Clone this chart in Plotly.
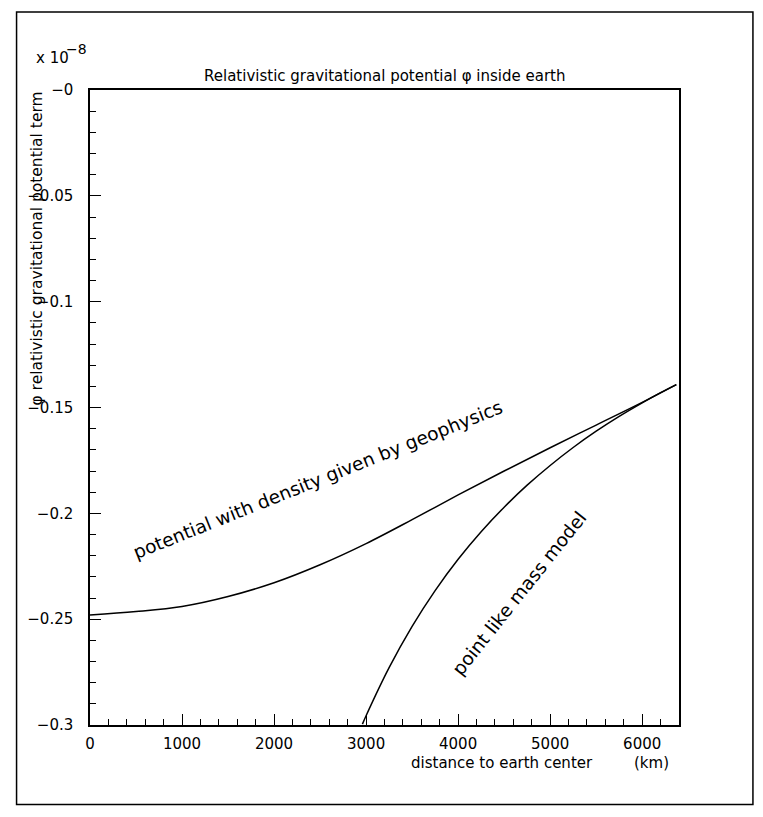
import plotly.graph_objects as go

# values (potential in units of 1e-8)
r_geo = [0, 500, 1000, 1500, 2000, 2500, 3000, 3500, 4000, 4500, 5000, 5500, 6000, 6371]
phi_geo = [-0.2480, -0.2464, -0.2440, -0.2393, -0.2328, -0.2243, -0.2143, -0.2030,
           -0.1913, -0.1800, -0.1690, -0.1583, -0.1476, -0.1392]

r_point = [2960, 3000, 3250, 3500, 3750, 4000, 4250, 4500, 4750, 5000, 5250, 5500,
           5750, 6000, 6200, 6371]
phi_point = [-0.2996, -0.2956, -0.2729, -0.2534, -0.2365, -0.2217, -0.2087, -0.1971,
             -0.1867, -0.1774, -0.1689, -0.1612, -0.1542, -0.1478, -0.1430, -0.1392]

x_ticks = [0, 1000, 2000, 3000, 4000, 5000, 6000]
y_ticks = [0, -0.05, -0.1, -0.15, -0.2, -0.25, -0.3]
y_ticktext = ["\u22120", "\u22120.05", "\u22120.1", "\u22120.15", "\u22120.2", "\u22120.25", "\u22120.3"]

FONT = "DejaVu Sans"
OFF = 8  # body margin of the html page
W, H = 747, 801
ML, MR, MT, MB = 81.5, 76, 82, 83.5
PW = W - ML - MR
PH = H - MT - MB


def px(x):
    # page pixel -> paper x
    return (x - OFF - ML) / PW


def py(y):
    # page pixel -> paper y
    return 1 - (y - OFF - MT) / PH


fig = go.Figure()
fig.add_trace(go.Scatter(x=r_geo, y=phi_geo, mode="lines", line=dict(color="black", width=1.5),
                         line_shape="spline", showlegend=False))
fig.add_trace(go.Scatter(x=r_point, y=phi_point, mode="lines", line=dict(color="black", width=1.5),
                         line_shape="spline", showlegend=False))

axis_common = dict(showline=True, linecolor="black", linewidth=1.5, mirror=True,
                   showgrid=False, zeroline=False, ticks="inside", tickcolor="black",
                   tickwidth=1.3, tickfont=dict(family=FONT, size=15, color="black"))

fig.update_xaxes(range=[0, 6400], tickvals=x_ticks, ticklen=11,
                 minor=dict(ticks="inside", ticklen=6, dtick=200, tick0=0, tickcolor="black", tickwidth=1.3),
                 ticklabelstandoff=4, **axis_common)
fig.update_yaxes(range=[-0.3, 0], tickvals=y_ticks, ticktext=y_ticktext, ticklen=11,
                 minor=dict(ticks="inside", ticklen=6, dtick=0.01, tick0=0, tickcolor="black", tickwidth=1.3),
                 ticklabelstandoff=12, **axis_common)

annots = [
    dict(text="Relativistic gravitational potential \u03c6 inside earth", x=px(384), y=py(76),
         xanchor="center", yanchor="middle", font=dict(size=15)),
    dict(text="x 10", x=px(33), y=py(58), xanchor="left", yanchor="middle", font=dict(size=15)),
    dict(text="\u22128", x=px(63), y=py(49), xanchor="left", yanchor="middle", font=dict(size=14)),
    dict(text="\u03c6 relativistic gravitational potential term", x=px(36), y=py(90),
         xanchor="center", yanchor="top", textangle=-90, font=dict(size=15.5)),
    dict(text="distance to earth center", x=px(502), y=py(764), xanchor="center", yanchor="middle",
         font=dict(size=15)),
    dict(text="(km)", x=px(651), y=py(764), xanchor="center", yanchor="middle", font=dict(size=15)),
    dict(text="potential with density given by geophysics", x=px(318), y=py(480),
         xanchor="center", yanchor="middle", textangle=-21.8, font=dict(size=18.5)),
    dict(text="point like mass model", x=px(519), y=py(594),
         xanchor="center", yanchor="middle", textangle=-51.5, font=dict(size=18.5)),
]
for a in annots:
    a.update(xref="paper", yref="paper", showarrow=False)
    a["font"].update(family=FONT, color="black")
fig.update_layout(annotations=annots)

# outer frame around the whole picture
fig.add_shape(type="rect", xref="paper", yref="paper", x0=px(16), x1=px(753), y0=py(805), y1=py(12),
              line=dict(color="black", width=1.5))

fig.update_layout(width=W, height=H, autosize=False,
                  margin=dict(l=ML, r=MR, t=MT, b=MB, pad=0),
                  paper_bgcolor="white", plot_bgcolor="white",
                  font=dict(family=FONT, color="black"))

fig.write_html("out.html")
